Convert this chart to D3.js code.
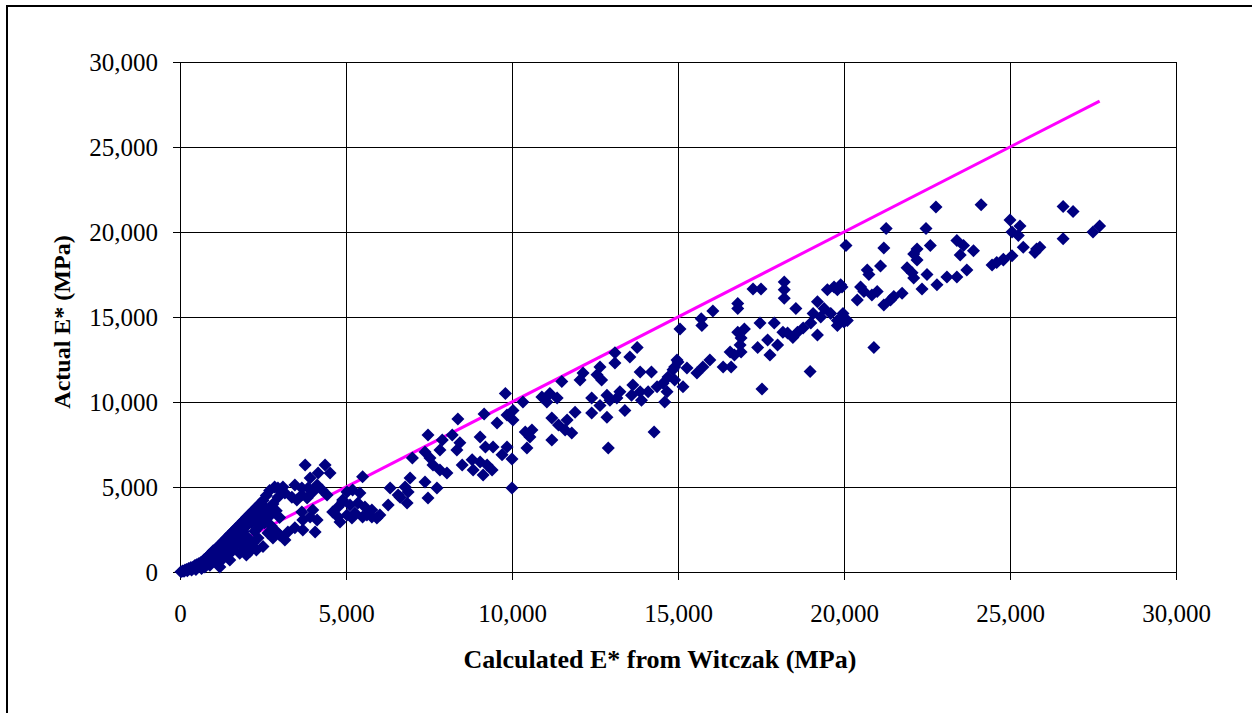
<!DOCTYPE html>
<html>
<head>
<meta charset="utf-8">
<script src="https://cdn.jsdelivr.net/npm/d3@7"></script>
<style>
	body { margin: 0; background: #fff; }
	text { font-family: "Liberation Serif", "Times New Roman", serif; }
</style>
</head>
<body>
<div id="chart"></div>
<script>
// calculated E* (MPa), actual E* (MPa)
var pointsLow = [
	[30, 20], [80, 60], [120, 40], [150, 110], [200, 150], [220, 80], [260, 200], [300, 180], [330, 260], [350, 120],
	[400, 300], [420, 220], [450, 380], [480, 150], [500, 420], [520, 300], [560, 480], [600, 350], [620, 550], [650, 200],
	[680, 620], [700, 450], [720, 700], [750, 300], [780, 800], [800, 550], [830, 900], [850, 650], [880, 1000], [900, 400],
	[950, 1100], [980, 750], [1000, 1250], [1050, 900], [1100, 1400], [1100, 600], [1150, 1050], [1200, 1600], [1250, 1200],
	[1300, 800], [1300, 1800], [1350, 1400], [1400, 2000], [1450, 1600], [1450, 1000], [1500, 2200], [1550, 1800],
	[1600, 1300], [1600, 2400], [1650, 2000], [1700, 1600], [1700, 2600], [1750, 2200], [1800, 1100], [1800, 2800],
	[1850, 1900], [1900, 2400], [1900, 3000], [1950, 1500], [2000, 2700], [2000, 3200], [2050, 2000], [2100, 3400],
	[2100, 1200], [2150, 2900], [2200, 1700], [2200, 3600], [2250, 2400], [2300, 3100], [2300, 3800], [2350, 2000],
	[2400, 4000], [2400, 2700], [2450, 3400], [2500, 1500], [2500, 4200], [2550, 2900], [2600, 3700], [2600, 4500],
	[2650, 2300], [2700, 4800], [2700, 3300], [2750, 2700], [2800, 4000], [2850, 5000], [2900, 3600], [2950, 4400],
	[3000, 3200], [3050, 4700], [3100, 5000], [2000, 1000], [1500, 700], [1200, 300], [2300, 1300]
];

var pointsLowMid = [
	[3770, 6300], [4370, 6300], [4520, 5820], [4160, 5820], [3920, 5530], [2950, 4940], [3160, 4650], [3460, 5120],
	[3670, 4940], [3860, 4940], [4130, 5120], [4000, 4700], [4280, 4820], [4430, 4530], [3370, 4400], [3520, 4240],
	[3670, 4530], [3830, 4350], [4760, 3820], [4900, 4120], [4760, 3240], [4820, 2940], [4600, 3530], [4000, 3650],
	[4130, 3060], [3920, 3240], [3670, 3530], [3700, 3060], [4070, 2350], [3700, 2470], [3460, 2600], [3250, 2350],
	[3000, 2180], [3160, 1880], [2800, 2000], [2920, 2350], [5180, 3180], [5630, 3350], [5930, 3180],
	[5500, 5600], [6930, 5530], [6780, 5000], [6870, 4700], [6630, 4400], [6840, 4060], [7380, 5300], [7740, 4940],
	[7470, 4350], [6330, 4940], [6570, 4530], [6270, 3940], [6020, 3350], [5030, 4700], [5200, 4820], [5420, 4650],
	[4900, 4240], [5120, 3940], [5360, 4060], [5570, 3820], [5780, 3650], [5270, 3470], [5500, 3240], [5030, 3350],
	[5780, 3240], [7000, 6700], [7380, 7060], [7530, 6700], [7620, 6300], [7830, 6000], [8040, 5820], [8500, 6300],
	[8800, 6600], [8830, 6000], [9040, 6470], [9250, 6300], [9130, 5700], [9400, 6000], [7470, 8060], [7900, 7760],
	[7830, 7180], [8200, 8060], [8430, 7600], [8340, 7180], [9040, 7940], [9200, 7350], [9430, 7350], [9160, 9300],
	[8370, 9000], [9550, 8760]
];

var pointsMid = [
	[9800, 10500], [10030, 9500], [9850, 9240], [10030, 8940], [10330, 10000], [10400, 8240], [10600, 8350],
	[10540, 7940], [10450, 7300], [11200, 7760], [9850, 7350], [9700, 6900], [10000, 6650], [10000, 4940],
	[10900, 10300], [11140, 10500], [11360, 10240], [11050, 10000], [11500, 11200], [11200, 9060], [11400, 8650],
	[11600, 8350], [11800, 8180], [11660, 8940], [11900, 9400], [12050, 11300], [12140, 11700], [12650, 12060],
	[12560, 11600], [12700, 11300], [13100, 12900], [13100, 12300], [13550, 12650], [13770, 13200], [13860, 11760],
	[14200, 11760], [12400, 10240], [12400, 9350], [12650, 9800], [12860, 10400], [12950, 10100], [12860, 9100],
	[13160, 10240], [13400, 9500], [13250, 10600], [13640, 11000], [13600, 10400], [13860, 10600], [14100, 10600],
	[14370, 10900], [14550, 11100], [14700, 11470], [14900, 12060], [14970, 12470], [14670, 10600], [14600, 10000],
	[13900, 10100], [14280, 8240], [12900, 7300]
];

var pointsMidHigh = [
	[15060, 14300], [15700, 14900], [15720, 14500], [16050, 15350], [16800, 15800], [16800, 15500], [17260, 16650],
	[17500, 16650], [18200, 17060], [18200, 16600], [18200, 16100], [18550, 15500], [19200, 15900], [19400, 15500],
	[19500, 16600], [19700, 16760], [19900, 16900], [19800, 16600], [19070, 15200], [19300, 15000], [19600, 15200],
	[19800, 14800], [19970, 15000], [19800, 14500], [20000, 14700], [19000, 14650], [18770, 14350], [18600, 14100],
	[18460, 13800], [18300, 14060], [18160, 14100], [19200, 13940], [17470, 14650], [17900, 14650], [17700, 13650],
	[18000, 13350], [17770, 12760], [17400, 13200], [16800, 14100], [17000, 14300], [16900, 13760], [16870, 13350],
	[16900, 12940], [16570, 12940], [16700, 12760], [15960, 12470], [16360, 12060], [16600, 12060], [15750, 12060],
	[15570, 11700], [15270, 12000], [15000, 12350], [14850, 11900], [14900, 11300], [15150, 10900], [18980, 11800],
	[17530, 10760]
];

var pointsHigh = [
	[25000, 20700], [25300, 20350], [25060, 20000], [25250, 19800], [25400, 19100], [25800, 19000], [25750, 18800],
	[25900, 19100], [24800, 18350], [25060, 18600], [26600, 21500], [26900, 21200], [26600, 19600], [27500, 20000],
	[27700, 20350], [22770, 21470], [24130, 21600], [21270, 20200], [22470, 20200], [20060, 19200], [21200, 19060],
	[22600, 19200], [22200, 19000], [22100, 18700], [22200, 18350], [23400, 19500], [23600, 19200], [23900, 18900],
	[23500, 18650], [24460, 18060], [24600, 18200], [24800, 18400], [20700, 17760], [20750, 17500], [21100, 18000],
	[21900, 17900], [22050, 17600], [22100, 17300], [22500, 17500], [23100, 17350], [23400, 17350], [23700, 17760],
	[22800, 16900], [22350, 16650], [20500, 16760], [20600, 16500], [20400, 16000], [20840, 16300], [21000, 16500],
	[21200, 15700], [21400, 16000], [21500, 16200], [21750, 16400], [19940, 16760], [19970, 15200], [20100, 14800],
	[20900, 13200]
];

// line of equality
var equalityLine = [[0, 0], [27700, 27700]];

var xTicks = [0, 5000, 10000, 15000, 20000, 25000, 30000];
var yTicks = [0, 5000, 10000, 15000, 20000, 25000, 30000];

var width = 1252;
var height = 713;
var plotLeft = 180, plotRight = 1176, plotTop = 62, plotBottom = 572;

var allPoints = pointsLow.concat(pointsLowMid, pointsMid, pointsMidHigh, pointsHigh);

var xScale = d3.scaleLinear().domain([0, 30000]).range([plotLeft, plotRight]);
var yScale = d3.scaleLinear().domain([0, 30000]).range([plotBottom, plotTop]);

var fmt = d3.format(",");

var svg = d3.select("#chart")
	.append("svg")
	.attr("width", width)
	.attr("height", height);

svg.append("rect")
	.attr("width", width)
	.attr("height", height)
	.attr("fill", "#fff");

// outer frame
svg.append("rect")
	.attr("x", 7)
	.attr("y", 6)
	.attr("width", 1260)
	.attr("height", 720)
	.attr("fill", "none")
	.attr("stroke", "#000")
	.attr("stroke-width", 2);

// gridlines
svg.append("g")
	.selectAll("line")
	.data(yTicks)
	.enter()
	.append("line")
	.attr("x1", plotLeft)
	.attr("x2", plotRight)
	.attr("y1", function (d) { return Math.round(yScale(d)) + 0.5; })
	.attr("y2", function (d) { return Math.round(yScale(d)) + 0.5; })
	.attr("stroke", "#000")
	.attr("stroke-width", 1);

svg.append("g")
	.selectAll("line")
	.data(xTicks)
	.enter()
	.append("line")
	.attr("y1", plotTop)
	.attr("y2", plotBottom)
	.attr("x1", function (d) { return Math.round(xScale(d)) + 0.5; })
	.attr("x2", function (d) { return Math.round(xScale(d)) + 0.5; })
	.attr("stroke", "#000")
	.attr("stroke-width", 1);

var xAxis = d3.axisBottom(xScale)
	.tickValues(xTicks)
	.tickFormat(fmt)
	.tickSize(8)
	.tickPadding(24)
	.tickSizeOuter(0);

var yAxis = d3.axisLeft(yScale)
	.tickValues(yTicks)
	.tickFormat(fmt)
	.tickSize(7)
	.tickPadding(15)
	.tickSizeOuter(0);

var gx = svg.append("g")
	.attr("transform", "translate(0," + plotBottom + ")")
	.call(xAxis);

var gy = svg.append("g")
	.attr("transform", "translate(" + plotLeft + ",0)")
	.call(yAxis);

[gx, gy].forEach(function (g) {
	g.selectAll("path, line").attr("stroke", "#000");
	g.selectAll("text")
		.attr("fill", "#000")
		.style("font-size", "25px")
		.style("font-family", "'Liberation Serif', 'Times New Roman', serif");
});

// equality line
var line = d3.line()
	.x(function (d) { return xScale(d[0]); })
	.y(function (d) { return yScale(d[1]); });

svg.append("path")
	.datum(equalityLine)
	.attr("d", line)
	.attr("fill", "none")
	.attr("stroke", "#ff00ff")
	.attr("stroke-width", 3);

// data points
var diamond = d3.symbol().type(d3.symbolSquare).size(85);

svg.append("g")
	.selectAll("path")
	.data(allPoints)
	.enter()
	.append("path")
	.attr("d", diamond)
	.attr("transform", function (d) {
		return "translate(" + xScale(d[0]) + "," + yScale(d[1]) + ") rotate(45)";
	})
	.attr("fill", "#000080");

// axis titles
svg.append("text")
	.text("Calculated E* from Witczak (MPa)")
	.attr("x", 660)
	.attr("y", 668)
	.attr("text-anchor", "middle")
	.style("font-size", "26px")
	.style("font-weight", "bold");

svg.append("text")
	.text("Actual E* (MPa)")
	.attr("transform", "translate(70,322) rotate(-90)")
	.attr("text-anchor", "middle")
	.style("font-size", "24px")
	.style("font-weight", "bold");
</script>
</body>
</html>
